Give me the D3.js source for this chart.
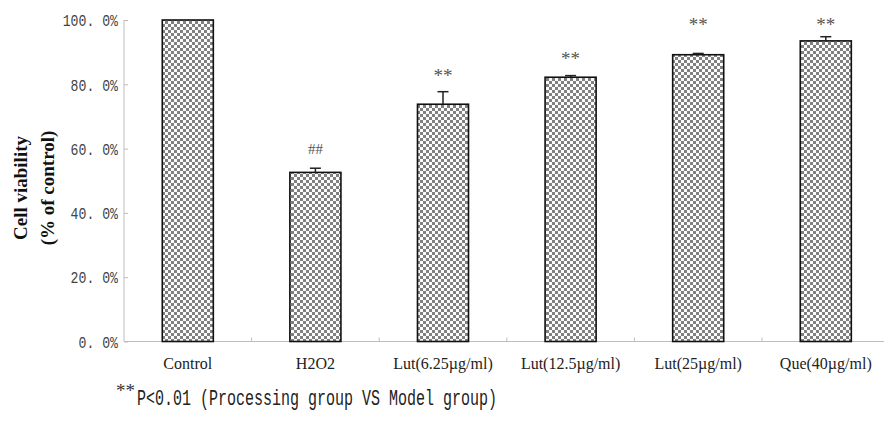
<!DOCTYPE html>
<head>
  <meta charset="utf-8">
  <title>Cell viability</title>
  <style>
    body { margin: 0; background: #fff; }
  </style>
</head>
<body>
  <div id="chart"></div>
  <script src="https://d3js.org/d3.v7.min.js"></script>
  <script>
    // data
    var groups = ["Control", "H2O2", "Lut(6.25\u00b5g/ml)", "Lut(12.5\u00b5g/ml)", "Lut(25\u00b5g/ml)", "Que(40\u00b5g/ml)"];
    var viability = [100, 52.6, 73.8, 82.2, 89.2, 93.5];
    var errors = [0, 1.3, 3.9, 0.5, 0.4, 1.3];
    var marks = ["", "##", "**", "**", "**", "**"];
    var markLevel = [null, 59.9, 84.4, 89.6, 100, 100];
    var yTicks = [0, 20, 40, 60, 80, 100];

    var width = 884, height = 431;
    var x0 = 124, band = 127.6;

    var svg = d3.select("#chart").append("svg")
      .attr("width", width)
      .attr("height", height);

    // checker fill
    var pat = svg.append("defs").append("pattern")
      .attr("id", "checker")
      .attr("patternUnits", "userSpaceOnUse")
      .attr("width", 6).attr("height", 6);
    pat.append("rect").attr("width", 6).attr("height", 6).attr("fill", "#fcfcfc");
    pat.append("rect").attr("width", 3).attr("height", 3).attr("fill", "#808080");
    pat.append("rect").attr("x", 3).attr("y", 3).attr("width", 3).attr("height", 3).attr("fill", "#808080");

    var x = d3.scaleBand()
      .domain(groups)
      .range([x0, x0 + band * groups.length])
      .padding(0);

    var y = d3.scaleLinear()
      .domain([0, 100])
      .range([341.5, 20]);

    // y axis
    var yAxis = svg.append("g")
      .attr("transform", "translate(" + x0 + ",0)")
      .call(d3.axisLeft(y).tickValues(yTicks).tickSize(-4).tickFormat(""));
    yAxis.selectAll("path, line").attr("stroke", "#bdbdbd");
    yAxis.select(".domain").attr("d", "M0," + y(100) + "V" + y(0));

    svg.append("g").selectAll("text")
      .data(yTicks)
      .enter().append("text")
      .attr("x", 118)
      .attr("y", function(d) { return y(d); })
      .attr("dy", "0.38em")
      .attr("text-anchor", "end")
      .attr("font-family", "Liberation Mono, monospace")
      .attr("font-size", 16.5)
      .attr("fill", "#444")
      .attr("textLength", function(d) { return (d.toFixed(1).length + 2) * 7.9; })
      .attr("lengthAdjust", "spacingAndGlyphs")
      .text(function(d) { return d.toFixed(1).replace(".", ". ") + "%"; });

    // x axis
    var xAxis = svg.append("g")
      .attr("transform", "translate(0," + y(0) + ")")
      .call(d3.axisBottom(x).tickSize(0).tickFormat(""));
    xAxis.select(".domain").attr("stroke", "#bdbdbd").attr("d", "M" + x0 + ",0H" + width);
    xAxis.selectAll(".tick").remove();

    svg.append("g").selectAll("line")
      .data(groups.slice(1))
      .enter().append("line")
      .attr("x1", function(d) { return x(d); })
      .attr("x2", function(d) { return x(d); })
      .attr("y1", y(0))
      .attr("y2", y(0) - 4)
      .attr("stroke", "#bdbdbd");

    svg.append("g").selectAll("text")
      .data(groups)
      .enter().append("text")
      .attr("x", function(d) { return x(d) + band / 2; })
      .attr("y", 369)
      .attr("text-anchor", "middle")
      .attr("font-family", "Liberation Serif, serif")
      .attr("font-size", 16)
      .attr("fill", "#222")
      .text(function(d) { return d; });

    // bars
    var bw = band * 0.4;
    svg.append("g").selectAll("rect")
      .data(groups)
      .enter().append("rect")
      .attr("x", function(d) { return x(d) + (band - bw) / 2; })
      .attr("y", function(d, i) { return y(viability[i]); })
      .attr("width", bw)
      .attr("height", function(d, i) { return y(0) - y(viability[i]); })
      .attr("fill", "url(#checker)")
      .attr("stroke", "#111")
      .attr("stroke-width", 1.6);

    // error bars
    var eb = svg.append("g").attr("stroke", "#222").attr("stroke-width", 1.5);
    groups.forEach(function(g, i) {
      if (!errors[i]) return;
      var cx = x(g) + band / 2;
      eb.append("line")
        .attr("x1", cx).attr("x2", cx)
        .attr("y1", y(viability[i])).attr("y2", y(viability[i] + errors[i]));
      eb.append("line")
        .attr("x1", cx - 5.5).attr("x2", cx + 5.5)
        .attr("y1", y(viability[i] + errors[i])).attr("y2", y(viability[i] + errors[i]));
    });

    // significance marks
    svg.append("g").selectAll("text")
      .data(groups)
      .enter().append("text")
      .attr("x", function(d) { return x(d) + band / 2; })
      .attr("y", function(d, i) { return markLevel[i] == null ? 0 : y(markLevel[i]); })
      .attr("dy", function(d, i) { return marks[i] == "##" ? "0.35em" : "0.6em"; })
      .attr("text-anchor", "middle")
      .attr("font-family", "Liberation Serif, serif")
      .attr("font-size", function(d, i) { return marks[i] == "##" ? 15 : 19; })
      .attr("fill", "#555")
      .text(function(d, i) { return marks[i]; });

    // y label
    var yl = svg.append("text")
      .attr("transform", "translate(0,188) rotate(-90)")
      .attr("text-anchor", "middle")
      .attr("font-family", "Liberation Serif, serif")
      .attr("font-weight", "bold")
      .attr("font-size", 19)
      .attr("fill", "#111");
    yl.append("tspan").attr("x", 0).attr("y", 27).text("Cell viability");
    yl.append("tspan").attr("x", 0).attr("y", 54).text("(% of control)");

    // footnote
    svg.append("text")
      .attr("x", 116)
      .attr("y", 397)
      .attr("font-family", "Liberation Serif, serif")
      .attr("font-size", 19)
      .attr("fill", "#333")
      .text("**");
    svg.append("text")
      .attr("x", 137)
      .attr("y", 405)
      .attr("font-family", "Liberation Mono, monospace")
      .attr("font-size", 22)
      .attr("fill", "#222")
      .attr("textLength", 360)
      .attr("lengthAdjust", "spacingAndGlyphs")
      .text("P<0.01 (Processing group VS Model group)");
  </script>
</body>
